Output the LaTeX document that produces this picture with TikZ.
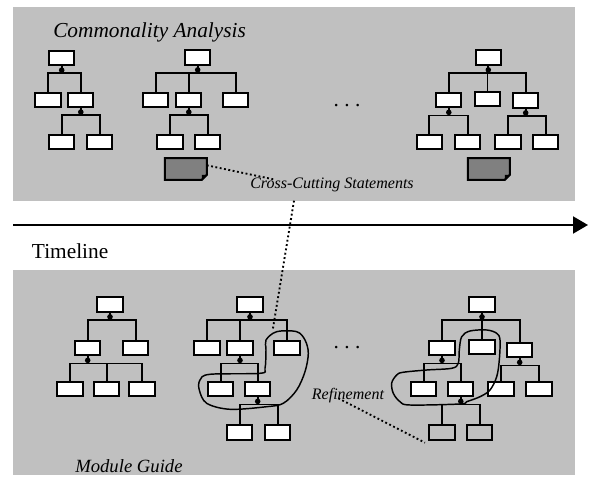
\documentclass[tikz,border=0pt]{standalone}
\usepackage{fontspec}
\setmainfont{Liberation Serif}
\usetikzlibrary{calc,arrows.meta}
\definecolor{panelgray}{RGB}{192,192,192}
\definecolor{notegray}{RGB}{128,128,128}

\tikzset{
  unit/.style={draw, line width=1.5pt, fill=white, minimum width=18.8pt, minimum height=10.6pt, inner sep=0pt},
  refunit/.style={unit, fill=panelgray},
  notespot/.style={minimum width=31.1pt, minimum height=15.8pt, inner sep=0pt},
  link/.style={line width=1.4pt},
  loopline/.style={line width=1.1pt},
  dotline/.style={line width=1.4pt, dash pattern=on 1.4pt off 1.9pt},
  caption/.style={inner sep=0pt, anchor=base west, font=\fontsize{16}{19}\selectfont\itshape},
  remark/.style={inner sep=0pt, anchor=base west, font=\fontsize{12}{14}\selectfont\itshape}
}

\begin{document}
\begin{tikzpicture}[x=0.75pt,y=0.75pt,yscale=-1,xscale=1]
\useasboundingbox (0,0) rectangle (594,485);

%Shape: Rectangle (top panel)
\fill[panelgray] (13,7) rectangle (575,201);
%Shape: Rectangle (bottom panel)
\fill[panelgray] (13,270) rectangle (575,475);

%Straight Lines (timeline)
\coordinate (tlstart) at (13,225);
\coordinate (tlend) at (588,225);
\draw[line width=1.5pt, -{Triangle[length=11.25pt,width=12.75pt]}] (tlstart) -- (tlend);

% Text Node
\node[caption] (commonality) at (53,37.3) {Commonality Analysis};
% Text Node
\node[inner sep=0pt, anchor=base west, font=\fontsize{16}{19}\selectfont] (timeline) at (31.7,258.3) {Timeline};
% Text Node
\node[caption, font=\fontsize{14}{17}\selectfont\itshape] (moduleguide) at (75,473) {Module Guide};
% Text Node
\node[remark] (crosscut) at (250,188.5) {Cross-Cutting Statements};
% Text Node
\node[remark] (refinement) at (311.7,400) {Refinement};
% Text Node
\node[inner sep=0pt, anchor=base, font=\fontsize{16}{19}\selectfont] (dotstop) at (347,106.5) {.\ .\ .};
% Text Node
\node[inner sep=0pt, anchor=base, font=\fontsize{16}{19}\selectfont] (dotsbottom) at (347,348.5) {.\ .\ .};

%Shape: tree (top left)
\node[unit] (a0) at (61.7,57.8) {};
\node[unit] (a1) at (48,99.7) {};
\node[unit] (a2) at (80.8,99.7) {};
\node[unit] (a21) at (61.8,142) {};
\node[unit] (a22) at (99.7,142) {};
\fill ($(a0.south)+(0,4.3)$) circle (2.8);
\draw[link] (a0.south) -- ++(0,7.5) -| (a1.north) (a0.south) -- ++(0,7.5) -| (a2.north);
\fill ($(a2.south)+(0,4.3)$) circle (2.8);
\draw[link] (a2.south) -- ++(0,7.5) -| (a21.north) (a2.south) -- ++(0,7.5) -| (a22.north);

%Shape: tree (top middle)
\node[unit] (b0) at (197.7,57.5) {};
\node[unit] (b1) at (155.8,99.7) {};
\node[unit] (b2) at (188.8,99.7) {};
\node[unit] (b3) at (235.7,99.7) {};
\node[unit] (b21) at (170,142) {};
\node[unit] (b22) at (207.7,142) {};
\fill ($(b0.south)+(0,4.3)$) circle (2.8);
\draw[link] (b0.south) -- ++(0,7.5) -| (b1.north) (b0.south) -- ++(0,7.5) -| (b2.north)
  (b0.south) -- ++(0,7.5) -| (b3.north);
\fill ($(b2.south)+(0,4.3)$) circle (2.8);
\draw[link] (b2.south) -- ++(0,7.5) -| (b21.north) (b2.south) -- ++(0,7.5) -| (b22.north);

%Shape: tree (top right)
\node[unit] (c0) at (488.3,57.5) {};
\node[unit] (c1) at (448.8,100) {};
\node[unit] (c2) at (487.5,99) {};
\node[unit] (c3) at (525.7,100.5) {};
\node[unit] (c11) at (429.3,142) {};
\node[unit] (c12) at (467.7,142) {};
\node[unit] (c31) at (508,142) {};
\node[unit] (c32) at (545.8,142) {};
\fill ($(c0.south)+(0,4.3)$) circle (2.8);
\draw[link] (c0.south) -- ++(0,7.5) -| (c1.north) (c0.south) -- ++(0,7.5) -| (c2.north)
  (c0.south) -- ++(0,7.5) -| (c3.north);
\fill ($(c1.south)+(0,4.3)$) circle (2.8);
\draw[link] (c1.south) -- ++(0,7.5) -| (c11.north) (c1.south) -- ++(0,7.5) -| (c12.north);
\fill ($(c3.south)+(0,4.3)$) circle (2.8);
\draw[link] (c3.south) -- ++(0,7.5) -| (c31.north) (c3.south) -- ++(0,7.5) -| (c32.north);

%Shape: notes with folded corner
\node[notespot] (bn) at (185.8,169) {};
\node[notespot] (cn) at (488.8,169) {};
\draw[line width=1.5pt, fill=notegray] (bn.north west) -- (bn.north east) -- ($(bn.south east)+(0,-5)$)
  -- ($(bn.south east)+(-5,0)$) -- (bn.south west) -- cycle;
\fill ($(bn.south east)+(0,-5)$) -- ($(bn.south east)+(-5,0)$) -- ($(bn.south east)+(-5,-5)$) -- cycle;
\draw[line width=1.5pt, fill=notegray] (cn.north west) -- (cn.north east) -- ($(cn.south east)+(0,-5)$)
  -- ($(cn.south east)+(-5,0)$) -- (cn.south west) -- cycle;
\fill ($(cn.south east)+(0,-5)$) -- ($(cn.south east)+(-5,0)$) -- ($(cn.south east)+(-5,-5)$) -- cycle;

%Shape: tree (bottom left)
\node[unit] (d0) at (110,304.5) {};
\node[unit] (d1) at (87.7,348) {};
\node[unit] (d2) at (135.8,348) {};
\node[unit] (d11) at (70,389) {};
\node[unit] (d12) at (106.8,389) {};
\node[unit] (d13) at (142,389) {};
\fill ($(d0.south)+(0,4.3)$) circle (2.8);
\draw[link] (d0.south) -- ++(0,7.5) -| (d1.north) (d0.south) -- ++(0,7.5) -| (d2.north);
\fill ($(d1.south)+(0,4.3)$) circle (2.8);
\draw[link] (d1.south) -- ++(0,7.5) -| (d11.north) (d1.south) -- ++(0,7.5) -| (d12.north)
  (d1.south) -- ++(0,7.5) -| (d13.north);

%Shape: tree (bottom middle)
\node[unit] (e0) at (250,304.5) {};
\node[unit] (e1) at (207,348) {};
\node[unit] (e2) at (240,348) {};
\node[unit] (e3) at (287,348) {};
\node[unit] (e21) at (220.8,389) {};
\node[unit] (e22) at (257.7,389) {};
\node[unit] (e221) at (239.7,432.5) {};
\node[unit] (e222) at (277.7,432.5) {};
\fill ($(e0.south)+(0,4.3)$) circle (2.8);
\draw[link] (e0.south) -- ++(0,7.5) -| (e1.north) (e0.south) -- ++(0,7.5) -| (e2.north)
  (e0.south) -- ++(0,7.5) -| (e3.north);
\fill ($(e2.south)+(0,4.3)$) circle (2.8);
\draw[link] (e2.south) -- ++(0,7.5) -| (e21.north) (e2.south) -- ++(0,7.5) -| (e22.north);
\fill ($(e22.south)+(0,4.3)$) circle (2.8);
\draw[link] (e22.south) -- ++(0,7.5) -| (e221.north) (e22.south) -- ++(0,7.5) -| (e222.north);

%Shape: tree (bottom right)
\node[unit] (f0) at (482,304.5) {};
\node[unit] (f1) at (442,348) {};
\node[unit] (f2) at (482,347) {};
\node[unit] (f3) at (519.7,350) {};
\node[unit] (f11) at (423.8,389) {};
\node[unit] (f12) at (460.8,389) {};
\node[unit] (f31) at (501,389) {};
\node[unit] (f32) at (539,389) {};
\node[refunit] (f121) at (442,432.5) {};
\node[refunit] (f122) at (479.7,432.5) {};
\fill ($(f0.south)+(0,4.3)$) circle (2.8);
\draw[link] (f0.south) -- ++(0,7.5) -| (f1.north) (f0.south) -- ++(0,7.5) -| (f2.north)
  (f0.south) -- ++(0,7.5) -| (f3.north);
\fill ($(f1.south)+(0,4.3)$) circle (2.8);
\draw[link] (f1.south) -- ++(0,7.5) -| (f11.north) (f1.south) -- ++(0,7.5) -| (f12.north);
\fill ($(f3.south)+(0,4.3)$) circle (2.8);
\draw[link] (f3.south) -- ++(0,7.5) -| (f31.north) (f3.south) -- ++(0,7.5) -| (f32.north);
\fill ($(f12.south)+(0,4.3)$) circle (2.8);
\draw[link] (f12.south) -- ++(0,7.5) -| (f121.north) (f12.south) -- ++(0,7.5) -| (f122.north);

%Shape: hand drawn outlines
\draw[loopline] plot[smooth cycle, tension=0.55] coordinates {(266,340) (276.7,331.7) (296.7,331.7)
  (305,340) (308.3,353.3) (305,371.7) (296.7,390) (283.3,403.3) (266.7,406.7) (230,409.3)
  (206.7,403.3) (199.3,390) (200,380) (210,374.3) (260,373.3) (265,368.3) (266,350)};
\draw[loopline] plot[smooth cycle, tension=0.55] coordinates {(396.7,375) (391.7,383) (393.3,393.3)
  (400,401.7) (410,405) (460,404) (466.7,401.7) (480,396.7) (490,390) (496.7,376.7) (499.3,360)
  (500,340) (496.7,333.3) (486.7,330) (470,331) (461.7,336.7) (459.3,350) (458.3,363.3)
  (451.7,368.3) (426.7,370) (403,372.3)};

%Straight Lines (dotted pointers)
\coordinate (ccend) at (273.3,179.3);
\coordinate (ccdrop) at (294,200.7);
\coordinate (ccloop) at (272.7,330);
\coordinate (refstart) at (338.3,398.3);
\coordinate (refend) at (425,442.7);
\draw[dotline] (bn.10) -- (ccend);
\draw[dotline] (ccdrop) -- (ccloop);
\draw[dotline] (refstart) -- (refend);

\end{tikzpicture}
\end{document}
